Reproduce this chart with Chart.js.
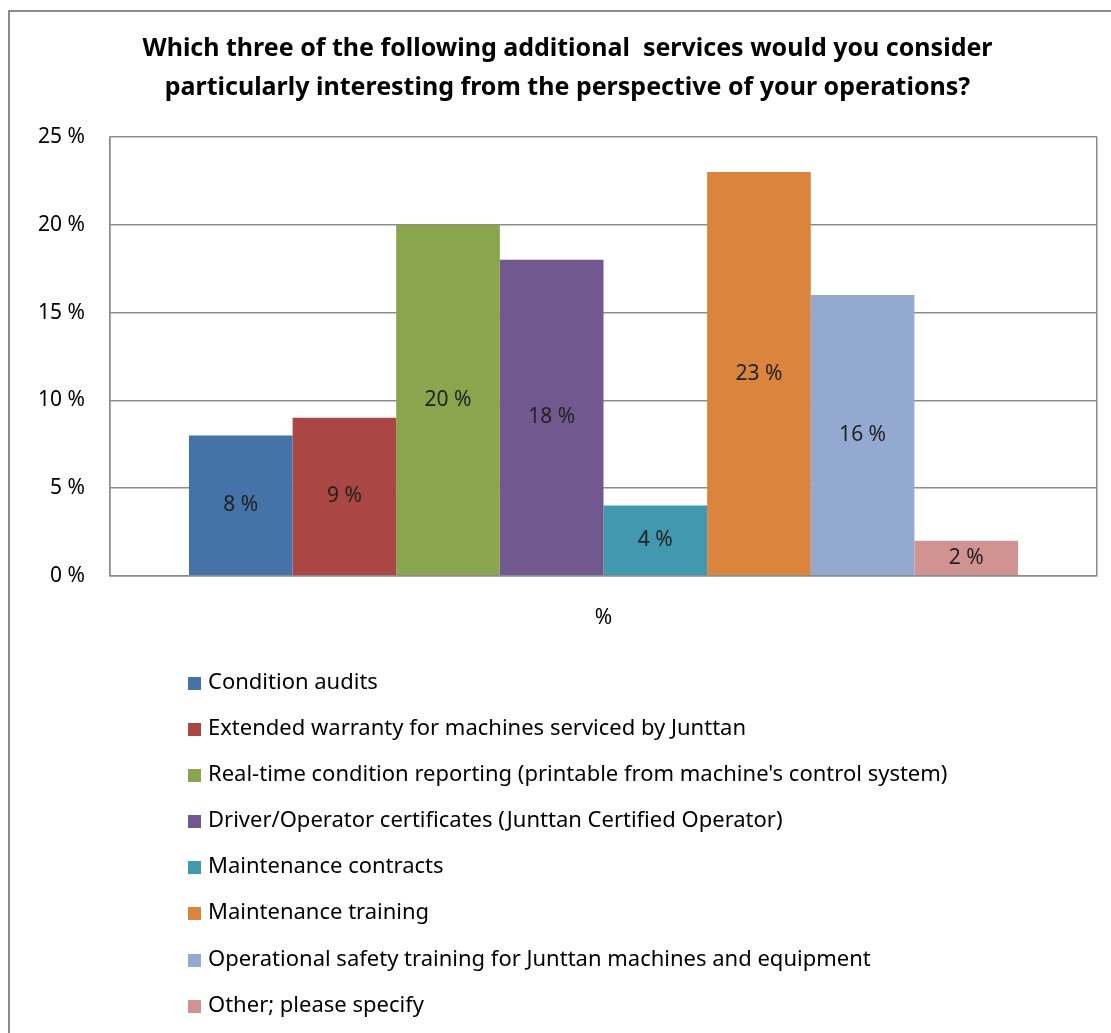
<!DOCTYPE html>
<html>
<head>
<meta charset="utf-8">
<script src="https://cdn.jsdelivr.net/npm/chart.js@4"></script>
<style>
  body { margin: 0; background: #fff; font-family: "Noto Sans", Lato, sans-serif; }
  #frame { position: absolute; left: 8px; top: 10px; width: 1120px; height: 1040px; border: 2px solid #8c8c8c; }
  #wrap { position: absolute; left: 0; top: 0; width: 1111px; height: 672px; }
  #legend { position: absolute; left: 188px; top: 657px; margin: 0; padding: 0; list-style: none; }
  #legend li { height: 46.1px; line-height: 46px; font-size: 22px; color: #000; white-space: nowrap; }
  #legend span { display: inline-block; width: 13px; height: 13px; margin-right: 7px; vertical-align: -1px; }
</style>
</head>
<body>
<div id="frame"></div>
<div id="wrap"><canvas id="grafica"></canvas></div>
<ul id="legend"></ul>
<script>
const categorias = ["%"];
const servicios = [
  "Condition audits",
  "Extended warranty for machines serviced by Junttan",
  "Real-time condition reporting (printable from machine's control system)",
  "Driver/Operator certificates (Junttan Certified Operator)",
  "Maintenance contracts",
  "Maintenance training",
  "Operational safety training for Junttan machines and equipment",
  "Other; please specify"
];
const porcentajes = [8, 9, 20, 18, 4, 23, 16, 2];
const colores = ["#4572A7", "#AA4643", "#89A54E", "#71588F", "#4198AF", "#DB843D", "#93A9CF", "#D19392"];
const titulo = [
  "Which three of the following additional  services would you consider",
  "particularly interesting from the perspective of your operations?"
];

const datasets = [];
for (var i = 0; i < servicios.length; i++) {
  datasets.push({
    label: servicios[i],
    data: [porcentajes[i]],
    backgroundColor: colores[i],
    borderWidth: 0,
    barPercentage: 1.0,
    categoryPercentage: 0.84
  });
}

// etiquetas dentro de las barras
const etiquetas = {
  id: "etiquetas",
  afterDatasetsDraw(chart) {
    const ctx = chart.ctx;
    ctx.save();
    ctx.font = "21px 'Noto Sans', Lato, sans-serif";
    ctx.fillStyle = "#222";
    ctx.textAlign = "center";
    ctx.textBaseline = "middle";
    chart.data.datasets.forEach(function (ds, i) {
      chart.getDatasetMeta(i).data.forEach(function (bar, j) {
        const centro = (bar.y + bar.base) / 2;
        ctx.fillText(ds.data[j] + " %", bar.x, centro);
      });
    });
    ctx.restore();
  }
};

new Chart(document.querySelector("#grafica").getContext("2d"), {
  type: "bar",
  data: { labels: categorias, datasets: datasets },
  plugins: [etiquetas],
  options: {
    responsive: true,
    maintainAspectRatio: false,
    animation: false,
    layout: { padding: { left: 38, right: 14, top: 0, bottom: 11 } },
    plugins: {
      legend: { display: false },
      tooltip: { enabled: false },
      title: {
        display: true,
        text: titulo,
        color: "#000",
        font: { family: "'Noto Sans', Lato, sans-serif", size: 25, weight: "bold", lineHeight: 1.56 },
        padding: { top: 29, bottom: 30 }
      }
    },
    scales: {
      x: {
        grid: { display: true, offset: true, color: "#8c8c8c", lineWidth: 1.5, drawTicks: false },
        border: { display: true, color: "#8c8c8c", width: 1.5 },
        ticks: { color: "#000", padding: 30, font: { family: "'Noto Sans', Lato, sans-serif", size: 21 } }
      },
      y: {
        min: 0,
        max: 25,
        afterFit: function (scale) { scale.width = 72; },
        grid: { color: "#8c8c8c", lineWidth: 1.5, drawTicks: false },
        border: { display: true, color: "#8c8c8c", width: 1.5 },
        ticks: {
          stepSize: 5,
          padding: 25,
          color: "#000",
          font: { family: "'Noto Sans', Lato, sans-serif", size: 21 },
          callback: function (v) { return v + " %"; }
        }
      }
    }
  }
});

const leyenda = document.querySelector("#legend");
for (var k = 0; k < servicios.length; k++) {
  const li = document.createElement("li");
  const caja = document.createElement("span");
  caja.style.background = colores[k];
  li.appendChild(caja);
  li.appendChild(document.createTextNode(servicios[k]));
  leyenda.appendChild(li);
}
</script>
</body>
</html>
